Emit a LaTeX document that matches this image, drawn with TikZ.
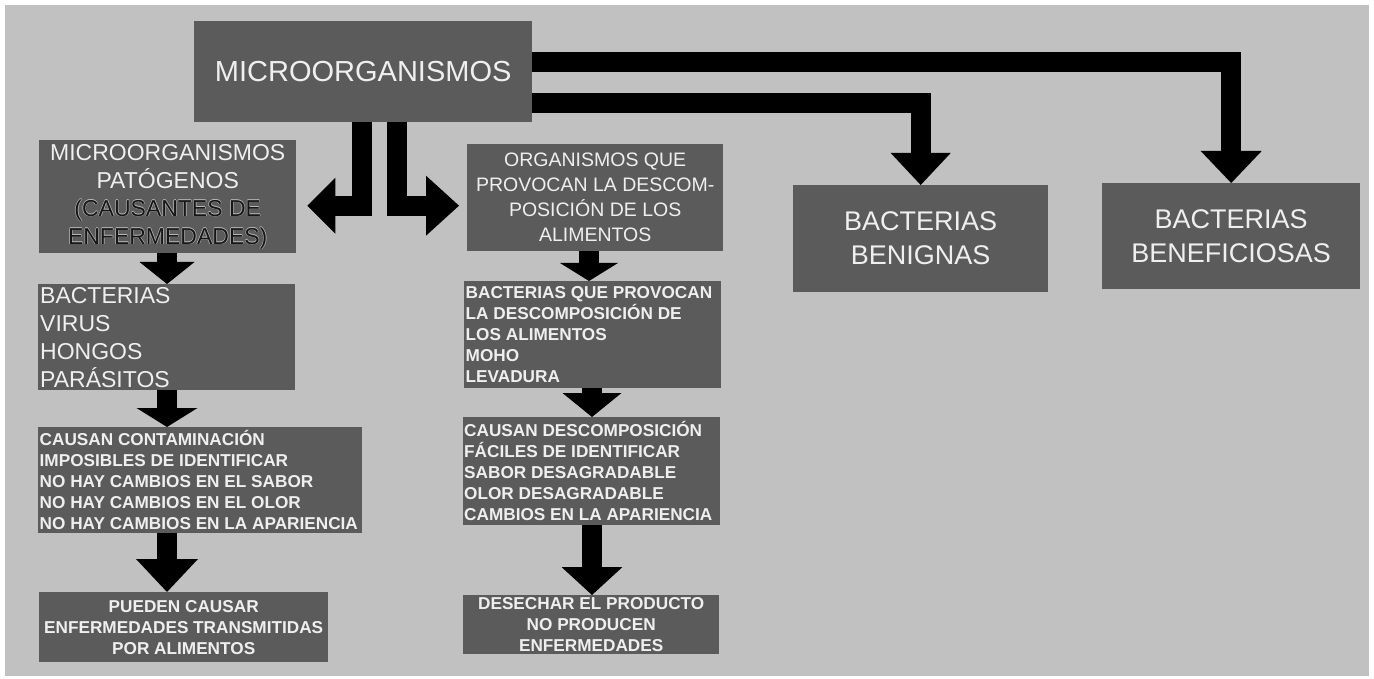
\documentclass[tikz,border=0pt]{standalone}
\usepackage{fontspec}
\setmainfont{Liberation Sans}
\usetikzlibrary{arrows.meta,calc}

\definecolor{paper}{HTML}{C1C1C1}
\definecolor{boxfill}{HTML}{5B5B5B}
\definecolor{txt}{HTML}{EFEFEF}
\definecolor{hl}{HTML}{B8B8B8}
\definecolor{dk}{HTML}{161616}

% dark lettering with a light rim
\newcommand\embossed[1]{%
  \makebox[0pt][l]{\textcolor{hl}{\kern-0.6pt#1}}%
  \makebox[0pt][l]{\textcolor{hl}{\kern0.6pt#1}}%
  \makebox[0pt][l]{\textcolor{hl}{\raisebox{0.6pt}{#1}}}%
  \makebox[0pt][l]{\textcolor{hl}{\raisebox{-0.6pt}{#1}}}%
  \textcolor{dk}{#1}}

\tikzset{
  box/.style={fill=boxfill, text=txt, inner sep=0pt, anchor=north west, align=center},
  lefttext/.style={text=txt, inner sep=0pt, anchor=west, align=left},
  big/.style={font=\fontsize{27pt}{34pt}\selectfont},
  mid/.style={font=\fontsize{23pt}{28pt}\selectfont},
  org/.style={font=\fontsize{19.5pt}{25pt}\selectfont},
  small/.style={font=\fontsize{17.2pt}{21pt}\selectfont\bfseries},
  conn/.style 2 args={draw=black, line width=20pt, line join=miter,
    -{Triangle[width=#1, length=#2, line width=0pt]}},
}

\begin{document}
\begin{tikzpicture}[x=1pt, y=-1pt]
  \useasboundingbox (0,0) rectangle (1374,679);
  \fill[white] (0,0) rectangle (1374,679);
  \fill[paper] (5,5) rectangle (1369,676);

  % top node
  \node[box, minimum width=338pt, minimum height=101pt,
        font=\fontsize{29pt}{34pt}\selectfont] (main) at (194,21) {MICROORGANISMOS};

  % left column
  \node[box, mid, minimum width=257pt, minimum height=113pt] (pat) at (39,140)
    {MICROORGANISMOS\\PATÓGENOS\\\embossed{(CAUSANTES DE}\\\embossed{ENFERMEDADES)}};
  \node[box, minimum width=257pt, minimum height=106pt] (bac) at (38,284) {};
  \node[lefttext, mid] (bactxt) at ($(bac.west)+(2,0)$)
    {BACTERIAS\\VIRUS\\HONGOS\\PARÁSITOS};
  \node[box, minimum width=324pt, minimum height=106pt] (cau) at (38,427) {};
  \node[lefttext, small] (cautxt) at ($(cau.west)+(1.5,0)$)
    {CAUSAN CONTAMINACIÓN\\IMPOSIBLES DE IDENTIFICAR\\NO HAY CAMBIOS EN EL SABOR\\NO HAY CAMBIOS EN EL OLOR\\NO HAY CAMBIOS EN LA APARIENCIA};
  \node[box, small, minimum width=289pt, minimum height=70pt] (pue) at (39,592)
    {PUEDEN CAUSAR\\ENFERMEDADES TRANSMITIDAS\\POR ALIMENTOS};

  % middle column
  \node[box, org, minimum width=256pt, minimum height=107pt] (orgs) at (467,144)
    {ORGANISMOS QUE\\PROVOCAN LA DESCOM-\\POSICIÓN DE LOS\\ALIMENTOS};
  \node[box, minimum width=257pt, minimum height=107pt] (des) at (464,281) {};
  \node[lefttext, small] (destxt) at ($(des.west)+(1.5,0)$)
    {BACTERIAS QUE PROVOCAN\\LA DESCOMPOSICIÓN DE\\LOS ALIMENTOS\\MOHO\\LEVADURA};
  \node[box, minimum width=257pt, minimum height=108pt] (cde) at (463,417) {};
  \node[lefttext, small] (cdetxt) at ($(cde.west)+(1,0)$)
    {CAUSAN DESCOMPOSICIÓN\\FÁCILES DE IDENTIFICAR\\SABOR DESAGRADABLE\\OLOR DESAGRADABLE\\CAMBIOS EN LA APARIENCIA};
  \node[box, small, minimum width=256pt, minimum height=59pt] (dese) at (463,595)
    {DESECHAR EL PRODUCTO\\NO PRODUCEN\\ENFERMEDADES};

  % right nodes
  \node[box, big, minimum width=255pt, minimum height=107pt] (beni) at (793,185)
    {BACTERIAS\\BENIGNAS};
  \node[box, big, minimum width=258pt, minimum height=106pt] (bene) at (1102,183)
    {BACTERIAS\\BENEFICIOSAS};

  % connectors from the top node
  \draw[conn={61pt}{32pt}] ($(main.east)+(0,-10)$) -| (bene.north);
  \draw[conn={60pt}{32pt}] ($(main.east)+(0,31.5)$) -| (beni.north);
  \draw[conn={56pt}{28pt}] ($(main.south west)+(168,0)$) |- ($(pat.east)+(11,9)$);
  \draw[conn={60pt}{33pt}] ($(main.south west)+(203,0)$) |- ($(orgs.west)+(-8,8)$);

  % left column chain
  \coordinate (c1) at ($(pat.south west)+(128,0)$);
  \draw[conn={55pt}{22pt}] (c1) -- (c1 |- bac.north);
  \coordinate (c2) at ($(bac.south west)+(129,0)$);
  \draw[conn={61pt}{19pt}] (c2) -- (c2 |- cau.north);
  \coordinate (c3) at ($(cau.south west)+(129,0)$);
  \draw[conn={62pt}{33pt}] (c3) -- (c3 |- pue.north);

  % middle column chain
  \coordinate (d1) at ($(orgs.south west)+(122,0)$);
  \draw[conn={58pt}{18pt}] (d1) -- (d1 |- des.north);
  \coordinate (d2) at ($(des.south west)+(128,0)$);
  \draw[conn={59pt}{24pt}] (d2) -- (d2 |- cde.north);
  \coordinate (d3) at ($(cde.south west)+(129,0)$);
  \draw[conn={61pt}{28pt}] (d3) -- (d3 |- dese.north);
\end{tikzpicture}
\end{document}
